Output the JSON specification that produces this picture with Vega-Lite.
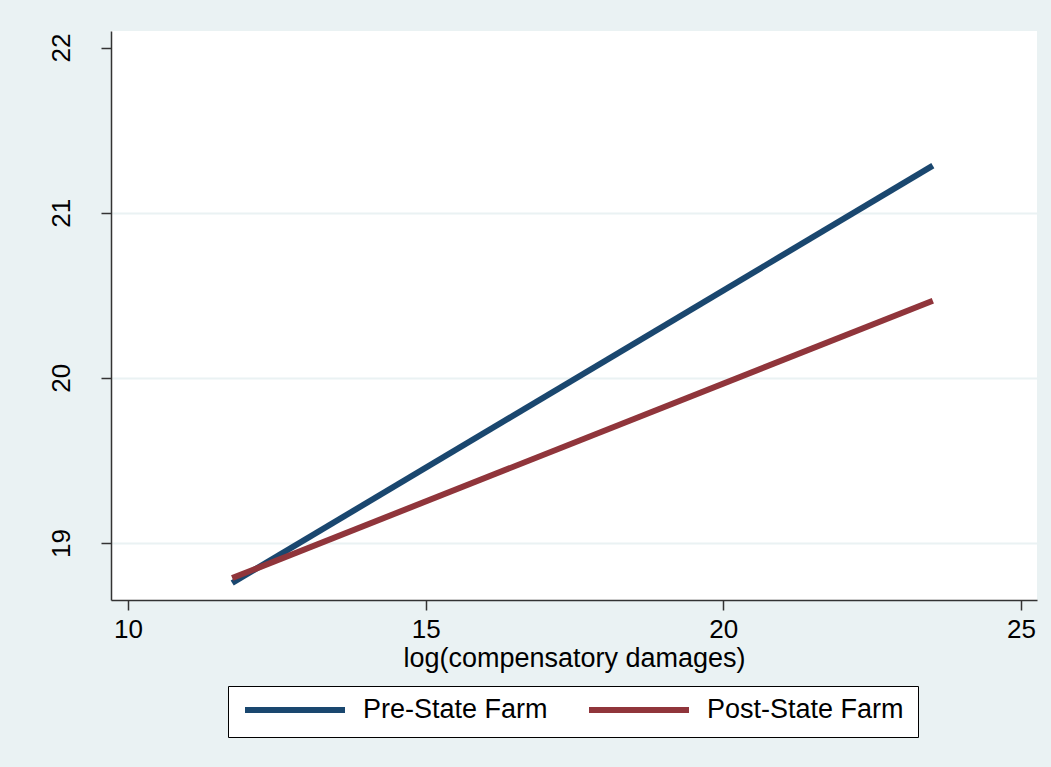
{
  "$schema": "https://vega.github.io/schema/vega-lite/v6.json",
  "autosize": "none",
  "width": 926,
  "height": 569,
  "padding": {"left": 111, "top": 31, "right": 14, "bottom": 167},
  "background": "#eaf2f3",
  "view": {"fill": "white", "stroke": null},
  "config": {"font": "Liberation Sans"},
  "data": {
    "values": [
      {"series": "Pre-State Farm", "x": 11.75, "y": 18.758},
      {"series": "Pre-State Farm", "x": 23.52, "y": 21.285},
      {"series": "Post-State Farm", "x": 11.75, "y": 18.788},
      {"series": "Post-State Farm", "x": 23.52, "y": 20.467}
    ]
  },
  "mark": {"type": "line", "strokeWidth": 6, "strokeCap": "butt"},
  "encoding": {
    "x": {
      "field": "x", "type": "quantitative",
      "scale": {"domain": [9.714, 25.27], "nice": false, "zero": false},
      "axis": {
        "title": "log(compensatory damages)",
        "values": [10, 15, 20, 25],
        "grid": false,
        "domainColor": "#333333", "domainWidth": 1.5,
        "tickColor": "#333333", "tickSize": 10, "tickWidth": 1.5,
        "labelFontSize": 26, "labelColor": "black", "labelPadding": 6,
        "titleFontSize": 27, "titleFontWeight": "normal", "titleColor": "black", "titlePadding": 3
      }
    },
    "y": {
      "field": "y", "type": "quantitative",
      "scale": {"domain": [18.655, 22.10], "nice": false, "zero": false},
      "axis": {
        "title": null,
        "values": [19, 20, 21, 22],
        "grid": true,
        "gridColor": "#eaf2f3", "gridWidth": 2,
        "gridOpacity": {"condition": {"test": "datum.value >= 22", "value": 0}, "value": 1},
        "domainColor": "#333333", "domainWidth": 1.5,
        "tickColor": "#333333", "tickSize": 10, "tickWidth": 1.5,
        "labelFontSize": 26, "labelColor": "black",
        "labelAngle": -90, "labelAlign": "center", "labelBaseline": "bottom", "labelPadding": 27
      }
    },
    "color": {
      "field": "series", "type": "nominal",
      "scale": {"domain": ["Pre-State Farm", "Post-State Farm"], "range": ["#1a476f", "#90353b"]},
      "legend": {
        "title": null,
        "orient": "none",
        "legendX": 117,
        "legendY": 655,
        "direction": "horizontal",
        "strokeColor": "black",
        "fillColor": "white",
        "padding": 14,
        "clipHeight": 20,
        "symbolType": "stroke",
        "symbolSize": 10000,
        "symbolStrokeWidth": 6,
        "labelFontSize": 27,
        "labelColor": "black",
        "labelLimit": 400,
        "labelOffset": 15,
        "columnPadding": 38
      }
    }
  }
}
